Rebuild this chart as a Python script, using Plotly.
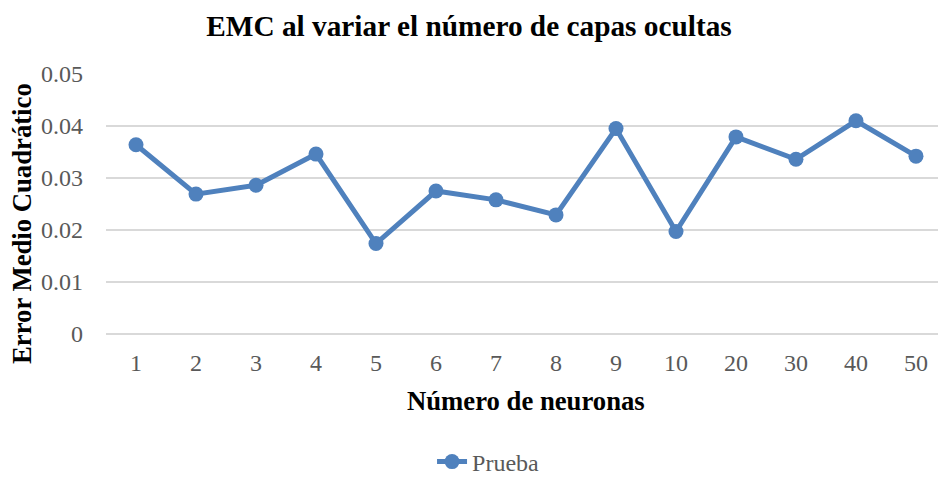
import plotly.graph_objects as go

# Número de neuronas (categorías) y EMC de la serie "Prueba"
neuronas = ["1", "2", "3", "4", "5", "6", "7", "8", "9", "10", "20", "30", "40", "50"]
emc_prueba = [0.0364, 0.0269, 0.0286, 0.0346, 0.0174, 0.0275, 0.0258, 0.0229,
              0.0395, 0.0197, 0.0379, 0.0336, 0.0410, 0.0342]

y_ticks = [0, 0.01, 0.02, 0.03, 0.04, 0.05]
y_tick_text = ["0", "0.01", "0.02", "0.03", "0.04", "0.05"]

serif = "Liberation Serif, Times New Roman, serif"
blue = "#4F81BD"
gray = "#595959"

fig = go.Figure()
fig.add_trace(go.Scatter(
    x=neuronas,
    y=emc_prueba,
    mode="lines+markers",
    name="Prueba",
    line=dict(color=blue, width=5),
    marker=dict(color=blue, size=15),
))

fig.update_layout(
    width=938,
    height=477,
    paper_bgcolor="white",
    plot_bgcolor="white",
    margin=dict(l=106, r=0, t=74, b=143),
    title=dict(
        text="<b>EMC al variar el número de capas ocultas</b>",
        x=0.5, xanchor="center", y=0.945, yanchor="middle",
        font=dict(family=serif, size=29.3, color="black"),
    ),
    font=dict(family=serif, size=24, color=gray),
    showlegend=True,
    legend=dict(
        orientation="h",
        xref="container", yref="container",
        x=0.4606, xanchor="left",
        y=(477 - 462) / 477, yanchor="middle",
        font=dict(family=serif, size=24, color=gray),
    ),
    annotations=[
        dict(
            text="<b>Número de neuronas</b>",
            xref="paper", yref="paper",
            x=0.505, y=-0.258, xanchor="center", yanchor="middle",
            showarrow=False,
            font=dict(family=serif, size=26.7, color="black"),
        ),
        dict(
            text="<b>Error Medio Cuadrático</b>",
            xref="paper", yref="paper",
            x=-0.101, y=0.427, xanchor="center", yanchor="middle",
            textangle=-90,
            showarrow=False,
            font=dict(family=serif, size=26.7, color="black"),
        ),
    ],
)

fig.update_xaxes(
    type="category",
    range=[-0.5, 13.367],
    showgrid=False,
    showline=False,
    ticks="",
    ticklabelstandoff=12,
    tickfont=dict(family=serif, size=24, color=gray),
)

fig.update_yaxes(
    range=[0, 0.05],
    tickvals=y_ticks,
    ticktext=y_tick_text,
    showgrid=True,
    gridcolor="#D9D9D9",
    gridwidth=1.5,
    zeroline=True,
    zerolinecolor="#D9D9D9",
    zerolinewidth=1.5,
    showline=False,
    ticks="",
    ticklabelstandoff=22,
    tickfont=dict(family=serif, size=24, color=gray),
)

# quitar el margen por defecto del <body> para que la figura empiece en (0, 0)
fig.write_html(
    "out.html",
    config={"displayModeBar": False},
    post_script="document.body.style.margin = '0';",
)
